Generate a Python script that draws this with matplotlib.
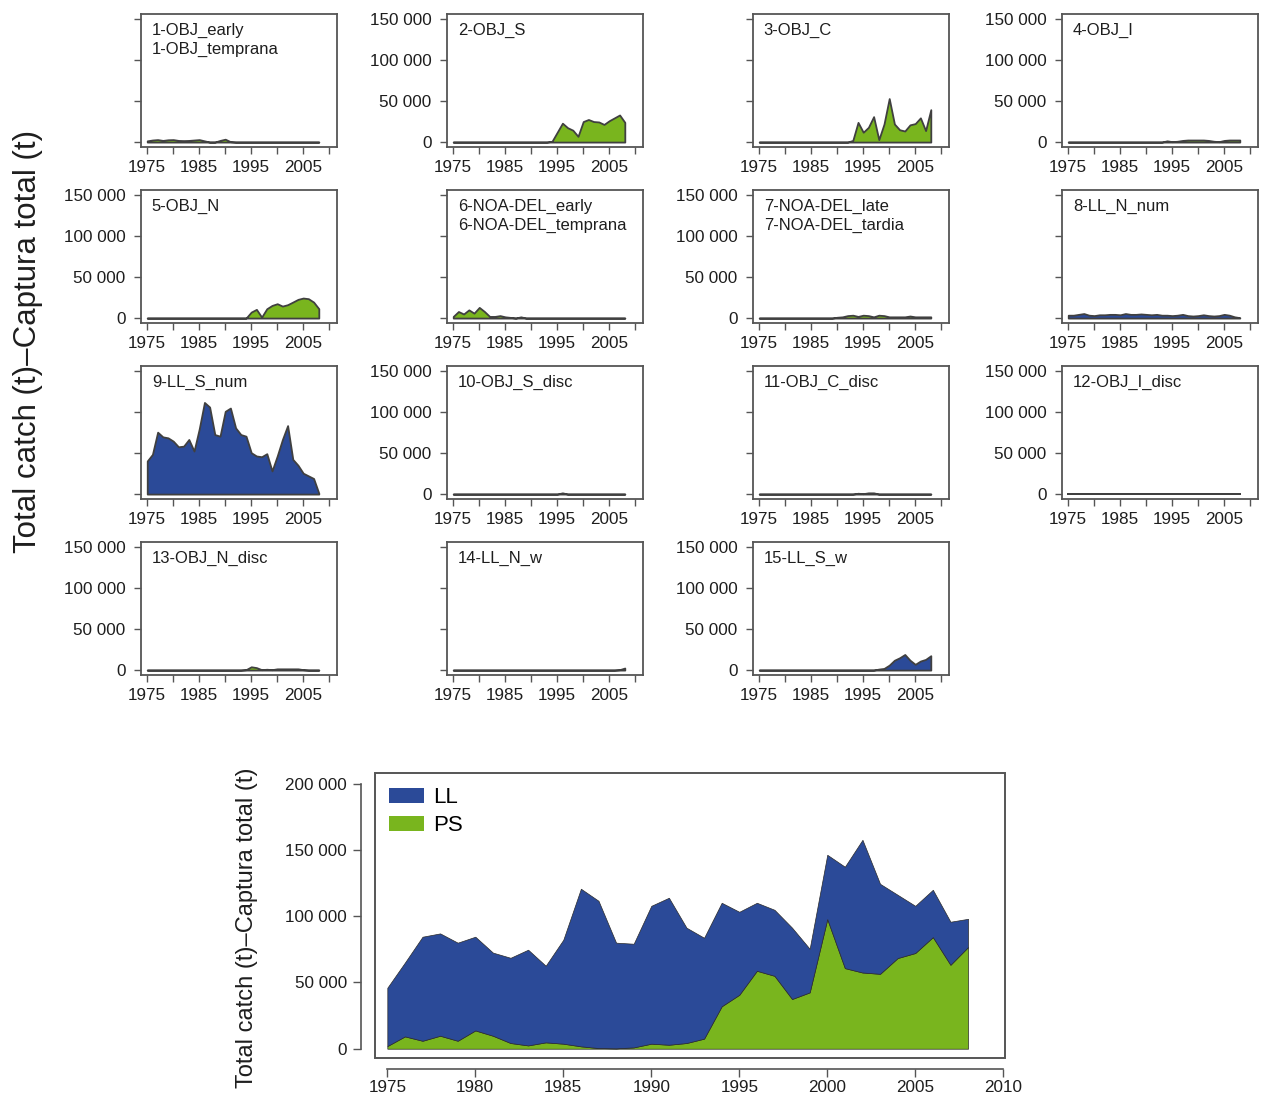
import matplotlib
matplotlib.use('Agg')
import matplotlib.pyplot as plt
from matplotlib.patches import Rectangle, Patch

plt.rcParams['font.family'] = ['Liberation Sans', 'DejaVu Sans']

# ---------------- data ----------------
years = list(range(1975, 2009))

obj_early = [1500, 2500, 3000, 2000, 2800, 3000, 2000, 1800, 2000, 2500, 3000, 1500, 0, 0, 2000, 3500, 500,
             0, 0, 0, 0, 0, 0, 0, 0, 0, 0, 0, 0, 0, 0, 0, 0, 0]
obj_s = [0] * 19 + [1000, 12000, 23000, 17500, 14500, 7000, 25000, 27500, 25000, 24500, 21500, 26000, 29500, 33000, 24000]
obj_c = [0] * 18 + [2000, 24000, 12000, 18000, 31000, 3000, 22000, 53000, 22000, 15000, 13500, 21000, 22500, 29500, 14000, 39500]
obj_i = [0] * 19 + [1500, 500, 1000, 2000, 2500, 2500, 2500, 2500, 2000, 1000, 500, 2000, 2500, 2500, 2500]
obj_n = [0] * 20 + [7300, 10600, 1200, 11400, 15400, 17500, 14600, 16300, 19500, 22800, 24400, 23600, 19500, 11400]
noa_early = [2000, 8000, 5000, 10000, 6000, 13000, 8000, 2000, 2000, 3000, 1500, 800, 0, 1500, 0] + [0] * 19
noa_late = [0] * 15 + [1000, 1500, 3000, 3500, 2000, 3500, 3000, 1500, 3500, 3000, 1500, 1500, 1500, 1500, 2500, 1500, 1500, 1500, 1500]
ll_n_num = [3500, 3500, 4500, 5500, 3500, 3000, 4000, 4000, 4500, 4500, 4000, 5500, 4500, 4500, 5000, 4500, 4000,
            4500, 3500, 3500, 3000, 3500, 4500, 3000, 2500, 3000, 4000, 3000, 2500, 3000, 4500, 3500, 1500, 500]
ll_s_num = [40300, 48400, 75400, 69700, 68500, 64500, 57600, 58400, 66500, 52400, 79400, 111600, 106000, 72500,
            70500, 100800, 104800, 80600, 72500, 70500, 50400, 46400, 45500, 49200, 28200, 46400, 66500, 83400,
            42300, 35100, 25400, 22200, 19000, 1000]
obj_s_disc = [0] * 21 + [1500] + [0] * 12
obj_c_disc = [0] * 19 + [1000, 500, 1500, 1500] + [0] * 11
obj_i_disc = [0] * 34
obj_n_disc = [0] * 19 + [500, 4000, 3000, 500, 1000, 500, 1500, 1500, 1500, 1500, 1500, 500, 0, 0, 0]
ll_n_w = [0] * 32 + [500, 2500]
ll_s_w = [0] * 23 + [1200, 2000, 6000, 12000, 15000, 19000, 12000, 7000, 11000, 13000, 17500]

panel_titles = ['1-OBJ_early\n1-OBJ_temprana', '2-OBJ_S', '3-OBJ_C', '4-OBJ_I',
                '5-OBJ_N', '6-NOA-DEL_early\n6-NOA-DEL_temprana', '7-NOA-DEL_late\n7-NOA-DEL_tardia', '8-LL_N_num',
                '9-LL_S_num', '10-OBJ_S_disc', '11-OBJ_C_disc', '12-OBJ_I_disc',
                '13-OBJ_N_disc', '14-LL_N_w', '15-LL_S_w']
panel_series = [obj_early, obj_s, obj_c, obj_i, obj_n, noa_early, noa_late, ll_n_num,
                ll_s_num, obj_s_disc, obj_c_disc, obj_i_disc, obj_n_disc, ll_n_w, ll_s_w]
panel_gear = ['PS', 'PS', 'PS', 'PS', 'PS', 'PS', 'PS', 'LL',
              'LL', 'PS', 'PS', 'PS', 'PS', 'LL', 'LL']
panel_ylabels = [False, True, False, True, True, False, True, False,
                 False, True, False, True, True, False, True]

# aggregated chart
ps_total = [2000, 9300, 6000, 9800, 6000, 13800, 9800, 4300, 2500, 4800, 3800, 1800, 500, 300, 1000, 3800, 3000,
            4300, 7600, 32000, 40700, 58800, 55000, 37500, 42500, 97800, 60800, 57500, 56500, 68400, 72200,
            84200, 63300, 76700]
ll_total = [44000, 55700, 78500, 77200, 74000, 70700, 62700, 64300, 72200, 57800, 78400, 118900, 111100, 79700,
            78200, 104000, 110900, 87000, 76100, 78100, 62600, 51300, 49800, 53800, 32900, 48500, 76500, 100100,
            67900, 47700, 35600, 35700, 32500, 21300]

small_yticks = [0, 50000, 100000, 150000]
small_xticks = [1975, 1980, 1985, 1990, 1995, 2000, 2005, 2010]
small_xlabels = ['1975', '', '1985', '', '1995', '', '2005', '']
big_yticks = [0, 50000, 100000, 150000, 200000]
big_xticks = [1975, 1980, 1985, 1990, 1995, 2000, 2005, 2010]

# ---------------- style ----------------
W, H = 1262, 1099
GREEN = '#79B51E'
BLUE = '#2B4A98'
EDGE = '#404040'
AXC = '#555555'
TXT = '#1e1e1e'
colors = {'PS': GREEN, 'LL': BLUE}

fig = plt.figure(figsize=(W / 100, H / 100), dpi=100)


def ax_px(l, t, w, h):
    return fig.add_axes([l / W, 1 - (t + h) / H, w / W, h / H])


def fmt(v):
    return f'{v:,}'.replace(',', ' ')


cols = [141, 447, 753, 1062]
rows = [14, 190, 366, 542]

for i, (title, vals, gear, showy) in enumerate(zip(panel_titles, panel_series, panel_gear, panel_ylabels)):
    r, c = divmod(i, 4)
    ax = ax_px(cols[c], rows[r], 196, 133)
    ax.fill_between(years, vals, 0, facecolor=colors[gear], edgecolor=EDGE, linewidth=1.3)
    ax.set_xlim(1973.8, 2011.5)
    ax.set_ylim(-6000, 156000)
    ax.set_xticks(small_xticks)
    ax.set_xticklabels(small_xlabels)
    ax.set_yticks(small_yticks)
    ax.set_yticklabels([fmt(v) for v in small_yticks] if showy else [''] * 4)
    ax.tick_params(direction='out', length=5, width=1, color=AXC, labelsize=12.3, pad=4,
                   labelcolor=TXT)
    ax.tick_params(axis='y', pad=6)
    for s in ax.spines.values():
        s.set_color(AXC)
        s.set_linewidth(1.3)
    ax.text(0.055, 0.93, title, transform=ax.transAxes, va='top', ha='left', fontsize=12,
            linespacing=1.3, color=TXT)

fig.text(28 / W, 1 - 341 / H, 'Total catch (t)–Captura total (t)', rotation=90,
         va='center', ha='center', fontsize=22.5, color=TXT)

# ---------------- aggregated chart ----------------
ax = ax_px(375, 773, 630, 285)
ax.stackplot(years, ps_total, ll_total, colors=[GREEN, BLUE], edgecolor='#2a2a2a', linewidth=0.5)
ax.set_xlim(1974.3, 2010.1)
ax.set_ylim(-7000, 208000)
ax.set_xticks(big_xticks)
ax.set_xticklabels([str(v) for v in big_xticks])
ax.set_yticks(big_yticks)
ax.set_yticklabels([fmt(v) for v in big_yticks])
for name in ['top', 'right']:
    ax.spines[name].set_visible(False)
ax.spines['left'].set_position(('outward', 10))
ax.spines['bottom'].set_position(('outward', 8))
ax.spines['left'].set_bounds(0, 200000)
ax.spines['bottom'].set_bounds(1975, 2010)
for name in ['left', 'bottom']:
    ax.spines[name].set_color(AXC)
    ax.spines[name].set_linewidth(1.2)
ax.add_patch(Rectangle((0, 0), 1, 1, transform=ax.transAxes, fill=False, edgecolor=AXC,
                       linewidth=1.4, clip_on=False, zorder=5))
ax.tick_params(direction='out', length=6, width=1, color=AXC, labelsize=12.3, pad=4, labelcolor=TXT)
ax.tick_params(axis='x', pad=2)
fig.text(247 / W, 1 - 928 / H, 'Total catch (t)–Captura total (t)', rotation=90,
         va='center', ha='center', fontsize=17, color=TXT)
handles = [Patch(facecolor=BLUE, edgecolor='none'), Patch(facecolor=GREEN, edgecolor='none')]
ax.legend(handles, ['LL', 'PS'], loc='upper left', frameon=False, fontsize=16,
          handlelength=1.55, handleheight=0.7, handletextpad=0.4, labelspacing=0.3,
          borderaxespad=0.25, bbox_to_anchor=(0.0, 1.0))

fig.savefig('out.png', dpi=100, facecolor='white')
